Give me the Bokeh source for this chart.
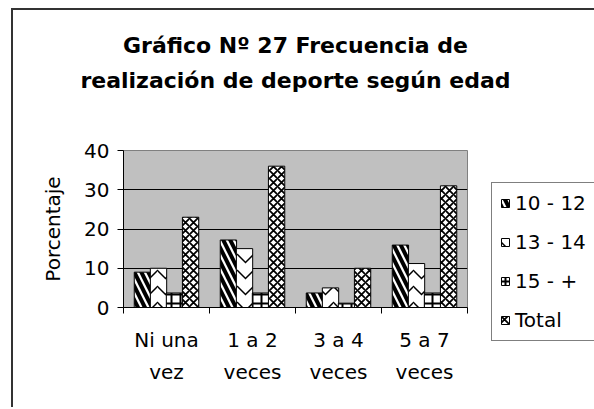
from bokeh.plotting import figure
from bokeh.models import (Range1d, LinearAxis, FixedTicker, Title, ColumnDataSource, Legend)
from bokeh.transform import dodge
from bokeh.embed import file_html
from bokeh.resources import INLINE

# ---- data ----
categories = ["Ni una vez", "1 a 2 veces", "3 a 4 veces", "5 a 7 veces"]
label_line1 = ["Ni una", "1 a 2", "3 a 4", "5 a 7"]
label_line2 = ["vez", "veces", "veces", "veces"]
series_names = ["10 - 12", "13 - 14", "15 - +", "Total"]
s_10_12 = [9, 17.2, 3.7, 15.9]
s_13_14 = [10, 15, 5, 11.2]
s_15_mas = [3.7, 3.7, 1.1, 3.7]
s_total = [23, 36, 10, 31]
y_ticks = [0, 10, 20, 30, 40]

FONT = "DejaVu Sans"
TXT = "black"
xc = [i + 0.5 for i in range(len(categories))]
src = ColumnDataSource(dict(x=xc, a=s_10_12, b=s_13_14, c=s_15_mas, d=s_total))

p = figure(frame_width=344, frame_height=157, output_backend="svg", toolbar_location=None,
           x_range=Range1d(0, len(categories)), y_range=Range1d(0, 40),
           x_axis_type=None, min_border_left=110, min_border_right=125,
           min_border_top=140, min_border_bottom=100,
           background_fill_color="#c0c0c0", border_fill_color="white",
           styles={"border-top": "2px solid #333", "border-left": "2px solid #333",
                   "margin-left": "11px", "margin-top": "8px"})
p.outline_line_color = "#808080"

# titles (spacer nearest the frame, then line 2, then line 1)
t0 = Title(text=" ", text_font_size="1px", standoff=52)
t2 = Title(text="realización de deporte según edad", align="center", text_color=TXT,
           text_font=FONT, text_font_size="22px", text_font_style="bold", standoff=5)
t1 = Title(text="Gráfico Nº 27 Frecuencia de", align="center", text_color=TXT,
           text_font=FONT, text_font_size="22px", text_font_style="bold", standoff=11)
p.title = None
p.add_layout(t0, "above")
p.add_layout(t2, "above")
p.add_layout(t1, "above")

# y axis
ya = p.yaxis[0]
ya.ticker = FixedTicker(ticks=y_ticks)
ya.axis_label = "Porcentaje"
ya.axis_label_text_font = FONT
ya.axis_label_text_font_size = "20px"
ya.axis_label_text_font_style = "normal"
ya.axis_label_text_color = TXT
ya.axis_label_standoff = 16
ya.major_label_text_font = FONT
ya.major_label_text_font_size = "20px"
ya.major_label_text_color = TXT
ya.major_label_standoff = 8
ya.major_tick_out = 6
ya.major_tick_in = 0
ya.minor_tick_out = 0
ya.minor_tick_in = 0
ya.axis_line_color = "black"
ya.major_tick_line_color = "black"

p.ygrid.ticker = FixedTicker(ticks=y_ticks)
p.ygrid.grid_line_color = "black"
p.ygrid.grid_line_width = 1

# x axes (two lines of category labels)
tick_pos = {x: l for x, l in zip(xc, label_line1)}
tick_pos2 = {x: l for x, l in zip(xc, label_line2)}
bounds = list(range(len(categories) + 1))
xa1 = LinearAxis(ticker=FixedTicker(ticks=xc, minor_ticks=bounds),
                 major_label_overrides=tick_pos, major_tick_out=0, major_tick_in=0,
                 minor_tick_out=6, minor_tick_in=0, minor_tick_line_color="black",
                 axis_line_color="black", major_label_standoff=14,
                 major_label_text_color=TXT,
                 major_label_text_font=FONT, major_label_text_font_size="20px")
xa2 = LinearAxis(ticker=FixedTicker(ticks=xc),
                 major_label_overrides=tick_pos2, major_tick_out=0, major_tick_in=0,
                 minor_tick_out=0, minor_tick_in=0, axis_line_color=None,
                 major_tick_line_color=None, minor_tick_line_color=None,
                 major_label_standoff=5, major_label_text_color=TXT,
                 major_label_text_font=FONT, major_label_text_font_size="20px")
p.add_layout(xa1, "below")
p.add_layout(xa2, "below")

# bars
offsets = [-0.28, -0.093, 0.093, 0.28]
cols = ["a", "b", "c", "d"]
patterns = ["\\", "v", "+", "x"]
weights = [4, 1.5, 2, 1.8]
scales = [14, 16, 9, 8]
renderers = []
for col, off, pat, w, sc, name in zip(cols, offsets, patterns, weights, scales, series_names):
    r = p.vbar(x=dodge("x", off), top=col, width=0.19, source=src,
               fill_color="white", line_color="black", line_width=1,
               hatch_pattern=pat, hatch_color="black", hatch_weight=w, hatch_scale=sc)
    renderers.append((name, [r]))

legend = Legend(items=renderers, location=(24, -34),
                label_text_font=FONT, label_text_font_size="20px", label_text_color=TXT,
                label_height=20, glyph_height=10, glyph_width=10,
                spacing=15, padding=8, margin=0, label_standoff=5,
                border_line_color="black", border_line_width=1,
                background_fill_color="white", background_fill_alpha=1)
p.add_layout(legend, "right")

open("out.html", "w").write(file_html(p, INLINE))
